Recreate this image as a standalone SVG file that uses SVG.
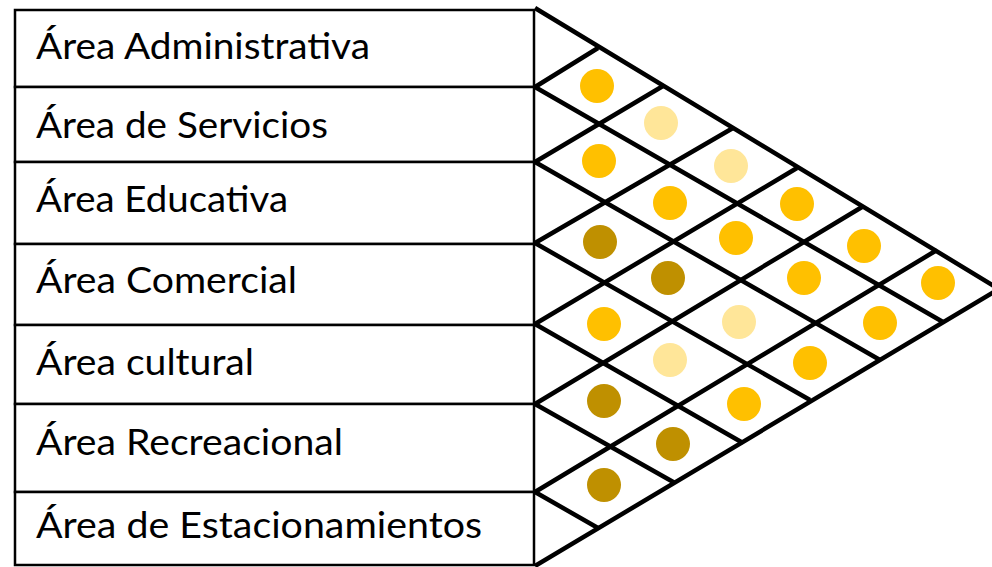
<svg xmlns="http://www.w3.org/2000/svg" width="992" height="567" viewBox="0 0 992 567">
<style>
.row{fill:#fff;stroke:#000;stroke-width:2.5}
.lbl{font-family:Lato,"Open Sans","Liberation Sans",sans-serif;font-size:36px;fill:#000}
.grid{stroke:#000;stroke-width:4.5;fill:none;stroke-linecap:butt;stroke-linejoin:miter}
.b{fill:#FFC000}
.l{fill:#FFE699}
.d{fill:#BF9000}
</style>
<rect width="992" height="567" fill="#fff"/>
<g id="rows">
<g id="row-administrativa"><rect class="row" x="15" y="10" width="519" height="77"/><text class="lbl" x="36" y="59" textLength="334" lengthAdjust="spacingAndGlyphs">Área Administrativa</text></g>
<g id="row-servicios"><rect class="row" x="15" y="87" width="519" height="75"/><text class="lbl" x="36" y="138" textLength="292" lengthAdjust="spacingAndGlyphs">Área de Servicios</text></g>
<g id="row-educativa"><rect class="row" x="15" y="162" width="519" height="82"/><text class="lbl" x="36" y="212" textLength="252" lengthAdjust="spacingAndGlyphs">Área Educativa</text></g>
<g id="row-comercial"><rect class="row" x="15" y="244" width="519" height="81"/><text class="lbl" x="36" y="293" textLength="261" lengthAdjust="spacingAndGlyphs">Área Comercial</text></g>
<g id="row-cultural"><rect class="row" x="15" y="325" width="519" height="79"/><text class="lbl" x="36" y="375" textLength="218" lengthAdjust="spacingAndGlyphs">Área cultural</text></g>
<g id="row-recreacional"><rect class="row" x="15" y="404" width="519" height="88"/><text class="lbl" x="36" y="455" textLength="307" lengthAdjust="spacingAndGlyphs">Área Recreacional</text></g>
<g id="row-estacionamientos"><rect class="row" x="15" y="492" width="519" height="73"/><text class="lbl" x="36" y="538" textLength="446" lengthAdjust="spacingAndGlyphs">Área de Estacionamientos</text></g>
</g>
<g id="connectors" class="grid">
<path d="M535,8 L999,289 L535,566"/>
<path d="M535,87 L943,322 M535,162 L880,360 M535,243 L810,400 M535,324 L743,443 M535,404 L675,483 M535,492 L598,528"/>
<path d="M535,87 L598,48 M535,162 L663,86 M535,243 L733,128 M535,324 L797,168 M535,404 L862,207 M535,492 L937,250"/>
</g>
<g id="cells">
<circle id="c-adm-ser" class="b" cx="597" cy="86" r="17"/>
<circle id="c-adm-edu" class="l" cx="661" cy="123" r="17"/>
<circle id="c-ser-edu" class="b" cx="599" cy="161" r="17"/>
<circle id="c-adm-com" class="l" cx="731" cy="166" r="17"/>
<circle id="c-ser-com" class="b" cx="670" cy="203" r="17"/>
<circle id="c-adm-cul" class="b" cx="797" cy="204" r="17"/>
<circle id="c-edu-com" class="d" cx="600" cy="242" r="17"/>
<circle id="c-ser-cul" class="b" cx="736" cy="238" r="17"/>
<circle id="c-adm-rec" class="b" cx="864" cy="246" r="17"/>
<circle id="c-edu-cul" class="d" cx="668" cy="278" r="17"/>
<circle id="c-ser-rec" class="b" cx="804" cy="278" r="17"/>
<circle id="c-adm-est" class="b" cx="938" cy="283" r="17"/>
<circle id="c-com-cul" class="b" cx="604" cy="324" r="17"/>
<circle id="c-edu-rec" class="l" cx="739" cy="322" r="17"/>
<circle id="c-ser-est" class="b" cx="880" cy="323" r="17"/>
<circle id="c-com-rec" class="l" cx="670" cy="360" r="17"/>
<circle id="c-edu-est" class="b" cx="810" cy="363" r="17"/>
<circle id="c-cul-rec" class="d" cx="604" cy="401" r="17"/>
<circle id="c-com-est" class="b" cx="744" cy="404" r="17"/>
<circle id="c-cul-est" class="d" cx="673" cy="444" r="17"/>
<circle id="c-rec-est" class="d" cx="604" cy="485" r="17"/>
</g>
</svg>
